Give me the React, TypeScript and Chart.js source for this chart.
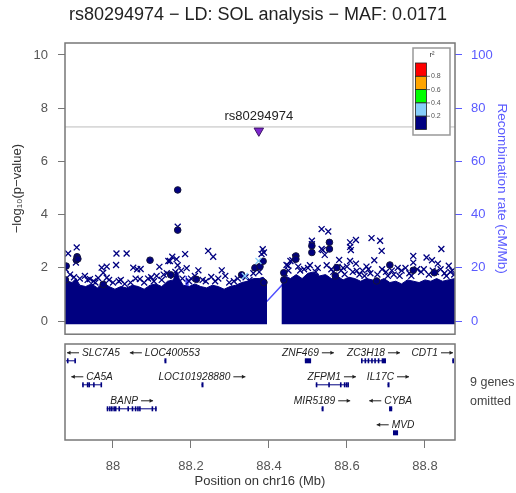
import React, { useEffect, useRef } from "react";
import { Chart, registerables } from "chart.js";
Chart.register(...registerables);

const FONT = "'Liberation Sans', Arial, Helvetica, sans-serif";

// ---- axes ----
const xRange = [87.877, 88.877];
const xTicks = [88, 88.2, 88.4, 88.6, 88.8];
const pvalTicks = [0, 2, 4, 6, 8, 10];
const recombTicks = [0, 20, 40, 60, 80, 100];

// ---- text ----
const titleText = "rs80294974 − LD: SOL analysis − MAF: 0.0171";
const xTitle = "Position on chr16 (Mb)";
const yTitle = "−log₁₀(p−value)";
const y2Title = "Recombination rate (cM/Mb)";
const omittedText = ["9 genes", "omitted"];

// ---- lead SNP ----
const leadName = "rs80294974";
const leadPos = 88.374;
const leadLogP = 7.15;
const sigThreshold = 7.3;

// ---- LD legend ----
const ldBreaks = [0.2, 0.4, 0.6, 0.8];
const ldColors = ["#000080", "#87CEFA", "#00FF00", "#FFA500", "#FF0000"];

// ---- dense mass of SNPs (upper envelope, -log10 p) ----
const massLeftPos = [87.877, 87.885, 87.895, 87.905, 87.915, 87.93, 87.945, 87.96, 87.975, 87.99, 88.005, 88.02, 88.035, 88.05, 88.065, 88.08, 88.095, 88.11, 88.125, 88.14, 88.155, 88.163, 88.17, 88.18, 88.195, 88.21, 88.225, 88.24, 88.255, 88.27, 88.285, 88.3, 88.315, 88.33, 88.345, 88.36, 88.375, 88.385, 88.395];
const massLeftVal = [1.7, 1.5, 1.45, 1.6, 1.35, 1.3, 1.4, 1.25, 1.45, 1.3, 1.2, 1.3, 1.25, 1.35, 1.3, 1.2, 1.35, 1.4, 1.3, 1.5, 1.55, 1.9, 1.6, 1.35, 1.3, 1.4, 1.3, 1.25, 1.35, 1.3, 1.2, 1.3, 1.35, 1.45, 1.5, 1.6, 1.6, 1.65, 1.5];
const massRightPos = [88.432, 88.44, 88.455, 88.47, 88.485, 88.5, 88.515, 88.53, 88.545, 88.56, 88.575, 88.59, 88.605, 88.62, 88.635, 88.65, 88.665, 88.68, 88.695, 88.71, 88.725, 88.74, 88.755, 88.77, 88.785, 88.8, 88.815, 88.83, 88.845, 88.86, 88.877];
const massRightVal = [1.6, 1.7, 1.6, 1.75, 1.6, 1.8, 1.85, 1.7, 1.75, 1.6, 1.7, 1.55, 1.65, 1.6, 1.5, 1.6, 1.55, 1.5, 1.6, 1.45, 1.5, 1.4, 1.55, 1.5, 1.45, 1.55, 1.5, 1.6, 1.5, 1.55, 1.6];
const massFloor = -0.12;

// ---- individual SNPs above the mass [position Mb, -log10 p] ----
const crossPoints = [
  [87.879, 1.95], [87.885, 2.54], [87.907, 2.77], [87.905, 2.2], [87.9, 1.65], [87.928, 1.7], [87.941, 1.58], [87.95, 1.5], [87.962, 1.62], [87.971, 2.01], [87.984, 2.05], [87.975, 1.82], [87.984, 1.63],
  [88.009, 2.54], [88.008, 2.11], [88.02, 1.55], [88.035, 2.54], [88.045, 1.45], [88.052, 2.01], [88.062, 1.95], [88.071, 1.96], [88.069, 1.58], [88.09, 1.6], [88.105, 1.5], [88.112, 1.7], [88.119, 2.04], [88.13, 1.75],
  [88.142, 2.26], [88.146, 2.26], [88.152, 2.42], [88.163, 2.33], [88.166, 2.1], [88.16, 1.85], [88.166, 3.55], [88.175, 1.9],
  [88.185, 2.52], [88.189, 1.99], [88.2, 1.6], [88.219, 1.91], [88.23, 1.55], [88.244, 2.64], [88.257, 2.42], [88.252, 1.66], [88.27, 1.6], [88.279, 1.91], [88.288, 1.7], [88.31, 1.5], [88.34, 1.65], [88.36, 1.8],
  [88.368, 2.01], [88.381, 2.52], [88.384, 2.7], [88.387, 2.58],
  [87.89, 1.75], [87.915, 1.6], [87.935, 1.55], [87.955, 1.45], [87.99, 1.55], [88.0, 1.45], [88.015, 1.5], [88.03, 1.4], [88.058, 1.6], [88.08, 1.45], [88.098, 1.65], [88.125, 1.55], [88.138, 1.8], [88.155, 1.7], [88.178, 1.6], [88.195, 1.5], [88.21, 1.7], [88.238, 1.5], [88.262, 1.5], [88.298, 1.45], [88.32, 1.6], [88.35, 1.55], [88.375, 1.85],
  [88.44, 1.8], [88.445, 2.11], [88.449, 2.08], [88.455, 2.26], [88.46, 2.29], [88.467, 2.39], [88.48, 1.9], [88.5, 2.0], [88.51, 3.02], [88.51, 2.89], [88.52, 1.85], [88.535, 3.46], [88.552, 3.37], [88.535, 2.71], [88.538, 2.67], [88.543, 2.49], [88.56, 1.95], [88.58, 2.3], [88.576, 2.04], [88.59, 2.0], [88.594, 1.76],
  [88.608, 2.96], [88.608, 2.79], [88.61, 2.67], [88.623, 3.05], [88.608, 2.26], [88.623, 2.16], [88.625, 1.89], [88.64, 1.9], [88.65, 2.05], [88.66, 1.8], [88.663, 3.12], [88.67, 2.29], [88.685, 3.02], [88.689, 2.64], [88.7, 1.85], [88.72, 1.75], [88.73, 2.0], [88.74, 1.9], [88.76, 1.8],
  [88.77, 2.45], [88.77, 2.2], [88.79, 1.85], [88.797, 1.95], [88.804, 2.39], [88.818, 2.29], [88.82, 1.9], [88.833, 2.16], [88.842, 2.71], [88.85, 1.8], [88.861, 2.08], [88.87, 1.9],
  [88.45, 1.9], [88.475, 2.05], [88.49, 1.95], [88.505, 2.1], [88.525, 2.0], [88.548, 2.1], [88.565, 1.85], [88.585, 1.9], [88.6, 2.05], [88.615, 1.85], [88.632, 1.75], [88.645, 1.7], [88.655, 1.95], [88.678, 1.75], [88.69, 1.95], [88.705, 1.7], [88.715, 1.9], [88.735, 1.7], [88.75, 2.0], [88.765, 1.7], [88.78, 1.95], [88.81, 1.75], [88.828, 1.85], [88.84, 1.95], [88.855, 1.7], [88.865, 1.85], [88.875, 1.75],
];
const circlePoints = [
  [87.878, 1.55], [87.88, 2.07], [87.906, 2.3], [87.908, 2.42], [87.91, 2.34], [87.975, 1.38], [88.095, 2.29], [88.148, 1.74], [88.166, 4.93], [88.166, 3.42], [88.214, 1.57], [88.33, 1.74], [88.364, 2.0], [88.377, 2.05], [88.385, 2.25], [88.387, 1.45],
  [88.438, 1.82], [88.438, 1.55], [88.469, 2.45], [88.469, 2.33], [88.51, 2.83], [88.51, 2.58], [88.555, 2.96], [88.555, 2.71], [88.574, 2.01], [88.57, 1.7], [88.676, 1.51], [88.71, 2.11], [88.77, 1.91], [88.824, 1.82],
];
const lightBluePoints = [[88.338, 1.7], [88.373, 2.26]];

// ---- recombination rate (cM/Mb) ----
const recombPos = [87.877, 87.9, 87.95, 88.0, 88.05, 88.1, 88.15, 88.185, 88.188, 88.19, 88.192, 88.194, 88.197, 88.25, 88.3, 88.35, 88.395, 88.435, 88.45, 88.5, 88.55, 88.6, 88.65, 88.7, 88.75, 88.8, 88.85, 88.877];
const recombVal = [0.5, 1.2, 0.8, 2, 1, 3, 1.5, 2, 17, 2, 16, 2, 1.5, 2, 4, 3, 7.5, 13.8, 8, 5, 9, 4, 6, 3, 5, 4, 6, 3];

// ---- genes ----
const geneNames = ["SLC7A5", "LOC400553", "ZNF469", "ZC3H18", "CDT1", "CA5A", "LOC101928880", "ZFPM1", "IL17C", "BANP", "MIR5189", "CYBA", "MVD"];
const geneStart = [87.863, 88.132, 88.492, 88.636, 88.87, 87.921, 88.227, 88.52, 88.704, 87.984, 88.535, 88.708, 88.718];
const geneEnd = [87.903, 88.134, 88.508, 88.7, 88.878, 87.972, 88.229, 88.602, 88.706, 88.112, 88.537, 88.716, 88.731];
const geneStrand = ["-", "-", "+", "+", "+", "-", "+", "+", "+", "+", "+", "-", "-"];
const geneRow = [1, 1, 1, 1, 1, 2, 2, 2, 2, 3, 3, 3, 4];
const geneExons = [
  [[87.882, 87.883], [87.901, 87.903]],
  [],
  [],
  [[88.636, 88.637], [88.645, 88.646], [88.653, 88.654], [88.662, 88.663], [88.67, 88.671], [88.679, 88.68], [88.689, 88.7]],
  [],
  [[87.921, 87.922], [87.933, 87.934], [87.937, 87.938], [87.949, 87.95], [87.968, 87.972]],
  [],
  [[88.52, 88.521], [88.552, 88.553], [88.582, 88.583], [88.592, 88.593], [88.597, 88.598], [88.601, 88.602]],
  [],
  [[87.984, 87.985], [87.99, 87.991], [87.995, 87.996], [88.001, 88.002], [88.005, 88.006], [88.014, 88.015], [88.037, 88.038], [88.048, 88.049], [88.056, 88.057], [88.062, 88.063], [88.067, 88.068], [88.099, 88.1], [88.108, 88.112]],
  [],
  [],
  [],
];

const pts = (arr: number[][]) => arr.map((p) => ({ x: p[0], y: p[1] }));
const fmt = (v: any) => String(Number(v));

const mainPlugin = {
  id: "mainDecor",
  afterDatasetsDraw(chart: any) {
    const { ctx, chartArea: a, scales } = chart;
    const x = scales.x, y = scales.y;
    ctx.save();
    ctx.strokeStyle = "#777";
    ctx.lineWidth = 1.5;
    ctx.strokeRect(a.left, a.top, a.right - a.left, a.bottom - a.top);
    // lead SNP label
    ctx.font = `13px ${FONT}`;
    ctx.fillStyle = "#222";
    ctx.textAlign = "center";
    ctx.textBaseline = "middle";
    ctx.fillText(leadName, x.getPixelForValue(leadPos), y.getPixelForValue(leadLogP) - 14);
    // r2 legend
    const lx = 413, ly = 48, lw = 37, lh = 87;
    ctx.fillStyle = "#fff";
    ctx.fillRect(lx, ly, lw, lh);
    ctx.strokeStyle = "#999";
    ctx.lineWidth = 1.5;
    ctx.strokeRect(lx, ly, lw, lh);
    ctx.fillStyle = "#333";
    ctx.font = `7.5px ${FONT}`;
    ctx.fillText("r²", 432, 55);
    const bx = 415.5, bw = 11, by = 63, bh = 13.3;
    for (let i = 0; i < ldColors.length; i++) {
      const c = ldColors[ldColors.length - 1 - i];
      ctx.fillStyle = c;
      ctx.fillRect(bx, by + i * bh, bw, bh);
      ctx.strokeStyle = "#222";
      ctx.lineWidth = 0.8;
      ctx.strokeRect(bx, by + i * bh, bw, bh);
    }
    ctx.font = `7px ${FONT}`;
    ctx.textAlign = "left";
    for (let i = 0; i < ldBreaks.length; i++) {
      const v = ldBreaks[ldBreaks.length - 1 - i];
      const ty = by + (i + 1) * bh;
      ctx.strokeStyle = "#555";
      ctx.beginPath();
      ctx.moveTo(bx + bw, ty);
      ctx.lineTo(bx + bw + 3.5, ty);
      ctx.stroke();
      ctx.fillStyle = "#555";
      ctx.fillText(v.toFixed(1), bx + bw + 4.5, ty);
    }
    ctx.restore();
  },
};

const genePlugin = {
  id: "genes",
  afterDraw(chart: any) {
    const { ctx, chartArea: a, scales } = chart;
    const x = scales.x, y = scales.y;
    ctx.save();
    ctx.strokeStyle = "#777";
    ctx.lineWidth = 1.5;
    ctx.strokeRect(a.left, a.top, a.right - a.left, a.bottom - a.top);
    ctx.save();
    ctx.beginPath();
    ctx.rect(a.left + 1, a.top, a.right - a.left - 2, a.bottom - a.top);
    ctx.clip();
    geneNames.forEach((name, i) => {
      const yy = y.getPixelForValue(geneRow[i] - 0.3);
      const x1 = x.getPixelForValue(geneStart[i]);
      const x2 = x.getPixelForValue(geneEnd[i]);
      ctx.strokeStyle = "#000080";
      ctx.fillStyle = "#000080";
      ctx.lineWidth = 1;
      ctx.beginPath();
      ctx.moveTo(x1, yy);
      ctx.lineTo(x2, yy);
      ctx.stroke();
      const ex = geneExons[i];
      if (ex.length) {
        ex.forEach((e) => {
          const p1 = x.getPixelForValue(e[0]);
          const p2 = x.getPixelForValue(e[1]);
          const w = Math.max(1.6, p2 - p1);
          ctx.fillRect(p1, yy - 2.5, w, 5);
        });
      } else {
        const w = Math.max(2, x2 - x1);
        ctx.fillRect(x1, yy - 2.5, w, 5);
      }
      // label
      ctx.font = `italic 10.2px ${FONT}`;
      const tw = ctx.measureText(name).width;
      const aw = 12, gap = 3;
      const W = tw + gap + aw;
      let cx = (x1 + x2) / 2;
      cx = Math.min(Math.max(cx, a.left + 2 + W / 2), a.right - 2 - W / 2);
      const left = cx - W / 2;
      const ty = yy - 8;
      const plus = geneStrand[i] === "+";
      const textX = plus ? left : left + aw + gap;
      const ax = plus ? left + tw + gap : left;
      ctx.fillStyle = "#222";
      ctx.textAlign = "left";
      ctx.textBaseline = "middle";
      ctx.fillText(name, textX, ty + 0.5);
      ctx.strokeStyle = "#222";
      ctx.lineWidth = 1;
      ctx.beginPath();
      ctx.moveTo(ax, ty);
      ctx.lineTo(ax + aw, ty);
      ctx.stroke();
      ctx.beginPath();
      if (plus) {
        ctx.moveTo(ax + aw, ty);
        ctx.lineTo(ax + aw - 3.5, ty - 2);
        ctx.lineTo(ax + aw - 3.5, ty + 2);
      } else {
        ctx.moveTo(ax, ty);
        ctx.lineTo(ax + 3.5, ty - 2);
        ctx.lineTo(ax + 3.5, ty + 2);
      }
      ctx.closePath();
      ctx.fillStyle = "#222";
      ctx.fill();
    });
    ctx.restore();
    // omitted genes note
    ctx.font = `12.5px ${FONT}`;
    ctx.fillStyle = "#444";
    ctx.textAlign = "left";
    ctx.textBaseline = "middle";
    ctx.fillText(omittedText[0], 470, 43);
    ctx.fillText(omittedText[1], 470, 62);
    ctx.restore();
  },
};

export default function App() {
  const topRef = useRef<HTMLCanvasElement | null>(null);
  const botRef = useRef<HTMLCanvasElement | null>(null);

  useEffect(() => {
    const blue = "#5a5aff";
    const main = new Chart(topRef.current as HTMLCanvasElement, {
      type: "scatter",
      data: {
        datasets: [
          {
            type: "line",
            label: "recomb",
            data: recombPos.map((p, i) => ({ x: p, y: recombVal[i] })),
            yAxisID: "y2",
            borderColor: "rgba(70,70,255,0.95)",
            borderWidth: 1.4,
            pointRadius: 0,
            tension: 0,
            order: 10,
          },
          {
            type: "line",
            label: "sig",
            data: [{ x: xRange[0], y: sigThreshold }, { x: xRange[1], y: sigThreshold }],
            borderColor: "#d9d9d9",
            borderWidth: 1.6,
            pointRadius: 0,
            order: 9,
          },
          {
            type: "line",
            label: "massL",
            data: massLeftPos.map((p, i) => ({ x: p, y: massLeftVal[i] })),
            fill: { value: massFloor },
            backgroundColor: "#000080",
            borderColor: "#000080",
            borderWidth: 1,
            pointRadius: 0,
            tension: 0,
            order: 8,
          },
          {
            type: "line",
            label: "massR",
            data: massRightPos.map((p, i) => ({ x: p, y: massRightVal[i] })),
            fill: { value: massFloor },
            backgroundColor: "#000080",
            borderColor: "#000080",
            borderWidth: 1,
            pointRadius: 0,
            tension: 0,
            order: 8,
          },
          {
            label: "cross",
            data: pts(crossPoints),
            pointStyle: "crossRot",
            pointRadius: 4.2,
            pointBorderWidth: 1.3,
            pointBorderColor: "#000080",
            pointBackgroundColor: "#000080",
            borderColor: "#000080",
            backgroundColor: "#000080",
            order: 6,
          },
          {
            label: "circle",
            data: pts(circlePoints),
            pointStyle: "circle",
            pointRadius: 3.3,
            pointBorderWidth: 1,
            pointBorderColor: "#15153a",
            pointBackgroundColor: "#000080",
            borderColor: "#15153a",
            backgroundColor: "#000080",
            order: 5,
          },
          {
            label: "lightblue",
            data: pts(lightBluePoints),
            pointStyle: "crossRot",
            pointRadius: 4.2,
            pointBorderWidth: 1.3,
            pointBorderColor: "#87CEFA",
            pointBackgroundColor: "#87CEFA",
            borderColor: "#87CEFA",
            backgroundColor: "#87CEFA",
            order: 4,
          },
          {
            label: "lead",
            data: [{ x: leadPos, y: leadLogP }],
            pointStyle: "triangle",
            pointRotation: 180,
            pointRadius: 5.5,
            pointBorderWidth: 1,
            pointBorderColor: "#3d1466",
            pointBackgroundColor: "#7D26CD",
            borderColor: "#3d1466",
            backgroundColor: "#7D26CD",
            order: 1,
          },
        ],
      } as any,
      options: {
        animation: false,
        responsive: false,
        events: [],
        layout: { padding: { top: 0, bottom: 7, left: 0, right: 0 } },
        plugins: {
          legend: { display: false },
          tooltip: { enabled: false },
          title: {
            display: true,
            text: titleText,
            color: "#222",
            font: { family: FONT, size: 18, weight: "normal" },
            padding: { top: 4, bottom: 17.4 },
          },
        },
        scales: {
          x: { type: "linear", min: xRange[0], max: xRange[1], display: false },
          y: {
            type: "linear",
            position: "left",
            min: -0.49,
            max: 10.45,
            afterBuildTicks: (s: any) => { s.ticks = pvalTicks.map((v) => ({ value: v })); },
            afterFit: (s: any) => { s.width = 65; },
            grid: { drawOnChartArea: false, drawTicks: true, tickLength: 7, color: "#777" },
            border: { display: false },
            ticks: { color: "#555", font: { family: FONT, size: 13 }, padding: 10, callback: fmt },
            title: { display: true, text: yTitle, color: "#333", font: { family: FONT, size: 13 }, padding: { top: 10, bottom: 0 } },
          },
          y2: {
            type: "linear",
            position: "right",
            min: -4.9,
            max: 104.5,
            afterBuildTicks: (s: any) => { s.ticks = recombTicks.map((v) => ({ value: v })); },
            afterFit: (s: any) => { s.width = 61; },
            grid: { drawOnChartArea: false, drawTicks: true, tickLength: 7, color: blue },
            border: { display: false },
            ticks: { color: blue, font: { family: FONT, size: 13 }, padding: 9, callback: fmt },
            title: { display: true, text: y2Title, color: blue, font: { family: FONT, size: 13.5 }, padding: { top: 6, bottom: 0 } },
          },
        },
      } as any,
      plugins: [mainPlugin],
    });

    const genes = new Chart(botRef.current as HTMLCanvasElement, {
      type: "scatter",
      data: { datasets: [] },
      options: {
        animation: false,
        responsive: false,
        events: [],
        layout: { padding: { top: 4, left: 65, right: 61, bottom: 0 } },
        plugins: { legend: { display: false }, tooltip: { enabled: false } },
        scales: {
          x: {
            type: "linear",
            position: "bottom",
            min: xRange[0],
            max: xRange[1],
            afterBuildTicks: (s: any) => { s.ticks = xTicks.map((v) => ({ value: v })); },
            afterFit: (s: any) => { s.height = 53; },
            grid: { drawOnChartArea: false, drawTicks: true, tickLength: 8, color: "#777" },
            border: { display: false },
            ticks: { color: "#555", font: { family: FONT, size: 13 }, padding: 11, callback: fmt, maxRotation: 0 },
            title: { display: true, text: xTitle, color: "#333", font: { family: FONT, size: 13 }, padding: { top: 0, bottom: 4 } },
          },
          y: { type: "linear", display: false, min: 0, max: 4, reverse: true },
        },
      } as any,
      plugins: [genePlugin],
    });

    return () => {
      main.destroy();
      genes.destroy();
    };
  }, []);

  return (
    <div style={{ position: "fixed", left: 0, top: 0, width: 516, height: 493, background: "#fff" }}>
      <canvas ref={botRef} width={516} height={153} style={{ position: "absolute", left: 0, top: 340, width: 516, height: 153 }} />
      <canvas ref={topRef} width={516} height={352} style={{ position: "absolute", left: 0, top: 0, width: 516, height: 352 }} />
    </div>
  );
}
